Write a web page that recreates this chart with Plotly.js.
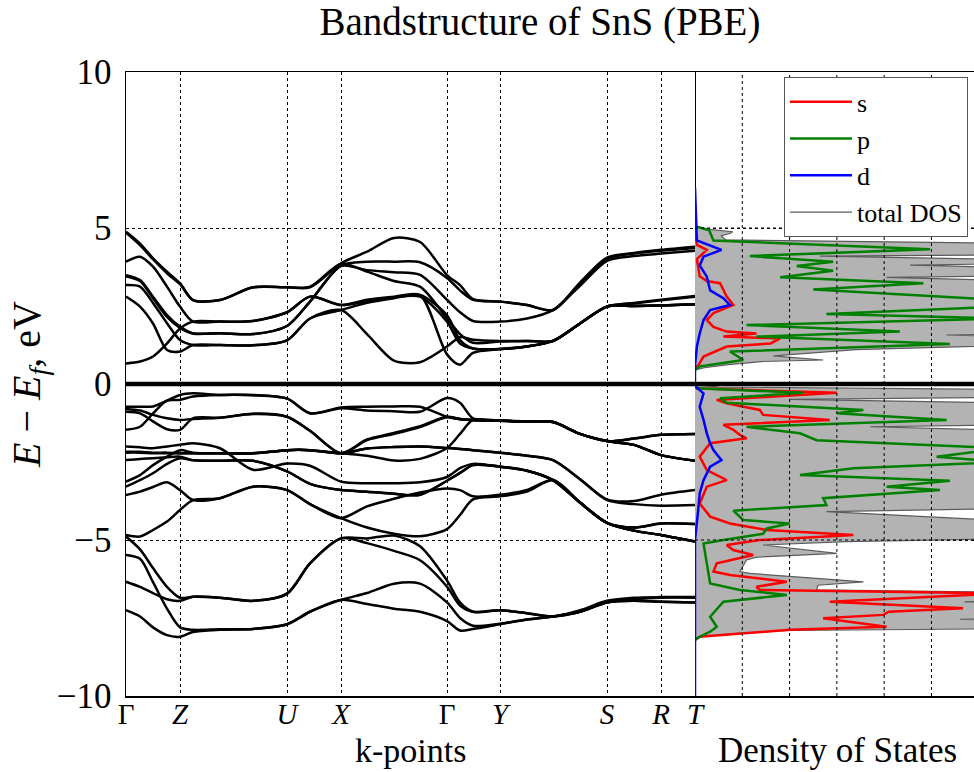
<!DOCTYPE html>
<html><head><meta charset="utf-8">
<script src="https://cdn.plot.ly/plotly-3.0.1.min.js"></script>
<style>html,body{margin:0;padding:0;background:#fff}</style>
</head><body><div id="chart" style="width:974px;height:772px"></div>
<script>
// k-path distances (arbitrary units) of the sampled points
const kPath = [0,14,27,41,54,67,94,127,161,184,215,241,268,294,321,334,347,374,401,427,454,481,508,535,569];
const kTicks = [0,54,161,215,321,374,481,535,569];
const kLabels = ['Γ','<i>Z</i>','<i>U</i>','<i>X</i>','Γ','<i>Y</i>','<i>S</i>','<i>R</i>','<i>T</i>'];
const eTicks = [-10,-5,0,5,10];

// conduction bands (eV)
const cb1 = [4.88,4.5,4.03,3.6,3.23,2.69,2.69,3.1,3.1,3.1,3.87,4.24,4.68,4.55,3.49,3.17,2.72,2.64,2.53,2.37,3.25,4.05,4.2,4.3,4.4];
const cb2 = [3.92,4.08,3.76,3.12,2.48,2.0,2.0,2.02,2.3,2.8,2.53,2.7,2.8,2.85,0.95,0.62,1.0,1.12,1.2,1.38,1.94,2.48,2.5,2.52,2.56];
const cb3 = [3.49,3.33,2.8,2.21,1.84,1.62,1.63,1.6,1.86,2.64,3.8,3.92,3.92,3.9,3.4,3.0,2.7,2.64,2.53,2.37,3.22,4.02,4.18,4.27,4.36];
const cb4 = [3.17,3.12,2.6,1.95,1.41,1.25,1.25,1.24,1.4,2.1,2.37,1.6,0.75,0.7,1.2,1.5,1.42,1.38,1.38,1.38,1.94,2.48,2.58,2.68,2.8];
const cb5 = [2.8,2.48,1.94,1.09,1.04,1.25,1.25,1.24,1.4,2.1,2.37,2.6,2.75,2.85,2.2,1.41,1.14,1.12,1.2,1.38,1.94,2.48,2.5,2.52,2.56];
const cb6 = [0.66,0.72,0.88,1.3,1.78,2.0,2.0,2.02,2.3,2.8,2.53,2.65,2.78,2.8,2.0,1.3,1.14,1.12,1.2,1.38,1.94,2.48,2.5,2.52,2.56];
const cb7 = [3.45,3.3,2.75,2.15,1.8,1.62,1.63,1.6,1.86,2.64,3.78,3.65,3.58,3.5,2.7,2.3,2.02,2.0,2.1,2.37,3.15,3.95,4.1,4.18,4.27];
const cb8 = [4.85,4.45,4.0,3.55,3.2,2.69,2.69,3.1,3.1,3.12,3.85,3.6,3.3,3.12,2.1,1.6,1.32,1.36,1.38,1.38,1.94,2.48,2.6,2.7,2.82];

// valence bands (eV)
const vb1 = [-0.73,-0.73,-0.72,-0.53,-0.35,-0.3,-0.35,-0.35,-0.46,-0.94,-0.75,-0.73,-0.72,-0.73,-1.05,-1.12,-1.15,-1.18,-1.2,-1.22,-1.6,-1.83,-1.75,-1.63,-1.6];
const vb2 = [-0.89,-0.94,-1.2,-1.45,-1.47,-1.1,-1.08,-0.95,-1.05,-1.5,-2.22,-1.78,-1.57,-1.35,-1.05,-1.12,-1.15,-1.18,-1.2,-1.22,-1.6,-1.83,-1.95,-2.28,-2.46];
const vb3 = [-1.47,-1.37,-0.94,-0.53,-0.51,-0.4,-0.35,-0.36,-0.47,-0.94,-0.78,-0.85,-0.87,-0.89,-0.45,-0.6,-1.1,-1.17,-1.2,-1.22,-1.6,-1.83,-1.75,-1.63,-1.6];
const vb4 = [-0.8,-0.85,-0.99,-1.1,-1.15,-1.12,-1.08,-0.96,-1.05,-1.5,-2.22,-1.8,-1.6,-1.38,-1.07,-1.13,-1.16,-1.18,-1.2,-1.22,-1.6,-1.83,-1.95,-2.28,-2.46];
const vb5 = [-2.17,-2.17,-2.2,-2.2,-2.22,-2.22,-2.22,-2.22,-2.12,-2.12,-2.22,-2.07,-2.02,-2.0,-2.05,-2.08,-2.12,-2.2,-2.3,-2.44,-3.05,-3.7,-3.75,-3.55,-3.4];
const vb6 = [-2.2,-2.2,-2.22,-2.22,-2.22,-2.22,-2.22,-2.22,-2.12,-2.12,-2.22,-2.3,-2.45,-2.4,-2.05,-1.6,-1.15,-1.18,-1.2,-1.22,-1.6,-1.83,-1.95,-2.28,-2.46];
const vb7 = [-3.13,-2.92,-2.6,-2.33,-2.12,-2.2,-2.22,-2.22,-2.12,-2.12,-2.22,-2.07,-2.02,-2.0,-2.05,-2.08,-2.12,-2.2,-2.3,-2.44,-3.05,-3.72,-3.85,-3.9,-3.88];
const vb8 = [-2.0,-2.03,-2.06,-2.0,-1.95,-1.9,-2.06,-2.75,-2.55,-2.62,-3.13,-3.18,-3.18,-3.15,-2.98,-2.7,-2.56,-2.65,-2.78,-3.08,-3.8,-4.45,-4.6,-4.47,-4.49];
const vb9 = [-2.44,-2.4,-2.38,-2.35,-2.33,-2.44,-2.46,-2.46,-2.8,-3.2,-3.4,-3.45,-3.52,-3.55,-3.1,-2.85,-2.6,-2.65,-2.78,-3.08,-3.8,-4.45,-4.7,-4.84,-5.05];
const vb10 = [-3.29,-3.08,-2.86,-2.56,-2.38,-2.44,-2.46,-2.46,-2.8,-3.2,-3.4,-3.45,-3.52,-3.55,-3.1,-2.85,-2.6,-2.65,-2.78,-3.08,-3.8,-4.45,-4.7,-4.84,-5.05];
const vb11 = [-3.56,-3.45,-3.3,-3.15,-3.4,-3.72,-3.66,-3.29,-3.4,-3.85,-4.3,-3.92,-3.68,-3.48,-3.35,-3.4,-3.6,-3.55,-3.4,-3.08,-3.8,-4.45,-4.6,-4.47,-4.49];
const vb12 = [-4.84,-4.89,-4.68,-4.41,-4.04,-3.72,-3.66,-3.29,-3.4,-3.85,-4.3,-4.6,-4.8,-4.88,-4.65,-4.2,-3.7,-3.6,-3.45,-3.08,-3.8,-4.45,-4.7,-4.84,-5.05];
const vb13 = [-4.89,-5.3,-5.9,-6.5,-6.85,-6.82,-6.85,-6.95,-6.72,-5.75,-4.95,-4.95,-4.86,-5.2,-6.3,-7.0,-7.3,-7.25,-7.35,-7.45,-7.25,-6.95,-6.85,-6.83,-6.83];
const vb14 = [-5.48,-5.6,-6.35,-7.2,-7.8,-7.88,-7.86,-7.85,-7.7,-7.3,-6.92,-7.05,-7.2,-7.3,-7.6,-7.9,-7.85,-7.7,-7.55,-7.45,-7.3,-7.0,-6.95,-6.98,-7.0];
const vb15 = [-6.34,-6.5,-6.7,-6.9,-6.95,-6.82,-6.85,-6.95,-6.72,-5.75,-4.95,-5.1,-5.35,-5.65,-6.5,-7.1,-7.3,-7.25,-7.35,-7.45,-7.3,-7.0,-6.9,-6.85,-6.85];
const vb16 = [-7.25,-7.45,-7.8,-8.05,-8.1,-7.95,-7.88,-7.85,-7.7,-7.3,-6.92,-6.7,-6.4,-6.4,-7.0,-7.5,-7.75,-7.68,-7.55,-7.45,-7.3,-7.0,-6.95,-6.98,-7.0];

// density of states: energies (eV) and values
const totE = [5.15,5.04,4.95,4.88,4.83,4.75,4.62,4.5,4.14,4.1,3.98,3.86,3.81,3.72,3.47,3.42,3.3,1.62,1.57,1.5,1.25,1.1,0.9,0.77,0.72,0.62,0.52,0.45,0.05,-0.02,-0.1,-0.18,-0.42,-0.49,-0.62,-1.3,-1.37,-1.5,-3.98,-4.09,-4.42,-4.95,-5.05,-5.16,-5.43,-5.55,-5.64,-6.01,-6.07,-6.34,-6.45,-6.6,-6.68,-6.94,-6.98,-7.05,-7.5,-7.54,-7.6,-7.84,-7.9,-8.0,-8.1,-8.2];
const totV = [0,0.05,0.35,0.8,0.75,0.55,0.65,7,7,2.64,7,7,4.55,7,7,4.05,7,7,5.32,7,7,3.4,1.66,2.71,1.4,0.7,0.2,0,0,0.05,0.5,7,7,2.0,7,7,3.7,7,7,2.78,7,7,3.2,1.44,3.0,1.3,1.09,0.95,1.16,3.56,2.6,2.57,7,7,5.7,7,7,5.6,7,7,2.0,0.8,0.1,0];
const sE = [5.0,4.6,4.46,4.3,4.0,3.45,3.3,3.23,2.8,2.53,2.27,2.05,1.83,1.68,1.62,1.52,1.46,1.3,1.2,0.88,0.6,0.5,null,0.0,-0.14,-0.28,-0.51,-0.62,-0.83,-0.99,-1.15,-1.31,-1.47,-1.63,-1.74,-1.9,-2.33,-2.76,-3.08,-3.29,-3.83,-4.25,-4.47,-4.68,-4.84,-5.0,-5.16,-5.32,-5.48,-5.75,-6.01,-6.12,-6.34,-6.5,-6.6,-6.71,-6.98,-7.19,-7.3,-7.4,-7.51,-7.78,-7.88,-8.1,-8.2];
const sV = [0,0.03,0.04,0.25,0.04,0.1,0.25,0.53,0.67,0.81,0.39,0.25,0.39,0.67,1.3,0.6,1.8,1.6,0.67,0.18,0.07,0,null,0,0.04,3.0,0.46,0.67,1.37,1.44,2.85,0.6,0.81,0.95,1.09,0.32,0.1,0.25,0.67,0.25,0.1,0.32,0.74,1.52,3.35,1.37,0.67,0.81,1.23,0.46,0.39,0.74,1.94,1.3,1.37,6.5,2.85,5.67,4.1,3.98,2.71,4.05,2.0,0.1,0];
const pE = [5.1,5.04,4.93,4.6,4.32,4.1,3.92,3.78,3.63,3.42,3.23,3.03,2.8,2.69,2.48,2.24,2.1,1.89,1.68,1.52,1.28,1.04,0.77,0.56,0.45,null,0.0,-0.14,-0.28,-0.46,-0.6,-0.83,-0.94,-1.15,-1.37,-1.58,-1.8,-2.06,-2.33,-2.5,-2.7,-2.92,-3.1,-3.29,-3.4,-3.66,-3.88,-4.06,-4.36,-4.47,-4.63,-4.8,-5.0,-5.11,-5.75,-6.39,-6.6,-6.76,-6.98,-7.46,-7.78,-7.94,-8.1,-8.2];
const pV = [0,0.04,0.3,0.39,4.97,1.16,2.92,2.15,2.92,1.8,4.83,2.5,5.25,6.5,6.5,2.78,6.5,1.09,4.33,1.3,5.39,0.74,1.02,0.1,0,null,0,0.04,2.29,0.53,0.67,3.56,3.0,5.32,1.09,2.22,2.57,6.5,5.11,6.5,3.35,2.22,5.39,4.05,5.18,2.71,2.78,0.81,1.02,2.0,1.52,1.44,0.6,0.18,0.25,0.32,0.95,1.94,0.6,0.32,0.46,0.32,0.1,0];
const dE = [6.3,5.0,4.6,4.3,4.08,3.8,3.44,3.0,2.75,2.53,2.37,2.05,1.62,1.2,0.6,0.0,-0.1,-0.3,-0.73,-1.15,-1.58,-1.9,-2.12,-2.44,-2.65,-3.08,-3.5,-4.0,-5.0,-10];
const dV = [0,0.02,0.04,0.56,0.18,0.1,0.25,0.32,0.6,0.74,0.32,0.18,0.1,0.04,0.0,0.0,0.03,0.18,0.1,0.18,0.25,0.32,0.39,0.56,0.32,0.18,0.1,0.07,0.0,0];
const dosGrid = [1,2,3,4,5];
const dosHGrid = [-5,5];

const bands = [cb1,cb2,cb3,cb4,cb5,cb6,cb7,cb8,vb1,vb2,vb3,vb4,vb5,vb6,vb7,vb8,vb9,vb10,vb11,vb12,vb13,vb14,vb15,vb16];

const FONT = '"Liberation Serif", serif';
const traces = [];
bands.forEach(b => traces.push({
  x: kPath, y: b, xaxis: 'x', yaxis: 'y', type: 'scatter', mode: 'lines',
  line: {color: 'black', width: 2.5, shape: 'spline', smoothing: 0.8},
  showlegend: false, hoverinfo: 'skip'
}));
traces.push({x: totV, y: totE, xaxis: 'x2', yaxis: 'y', type: 'scatter', mode: 'lines',
  fill: 'tozerox', fillcolor: '#b3b3b3', line: {width: 0, color: '#b3b3b3'}, showlegend: false, hoverinfo: 'skip'});
traces.push({x: totV, y: totE, xaxis: 'x2', yaxis: 'y', type: 'scatter', mode: 'lines',
  line: {color: '#5c5c5c', width: 1.2}, name: 'total DOS', legendrank: 4});
traces.push({x: sV, y: sE, xaxis: 'x2', yaxis: 'y', type: 'scatter', mode: 'lines',
  line: {color: '#ff0000', width: 2.5}, name: 's', legendrank: 1});
traces.push({x: pV, y: pE, xaxis: 'x2', yaxis: 'y', type: 'scatter', mode: 'lines',
  line: {color: '#008000', width: 2.5}, name: 'p', legendrank: 2});
traces.push({x: dV, y: dE, xaxis: 'x2', yaxis: 'y', type: 'scatter', mode: 'lines',
  line: {color: '#0000ff', width: 2.5}, name: 'd', legendrank: 3});

const shapes = [];
dosGrid.forEach(v => shapes.push({type: 'line', xref: 'x2', yref: 'y domain', x0: v, x1: v, y0: 0, y1: 1,
  line: {color: 'black', width: 1, dash: 'dot'}, layer: 'above'}));
dosHGrid.forEach(e => shapes.push({type: 'line', xref: 'x2 domain', yref: 'y', x0: 0, x1: 1, y0: e, y1: e,
  line: {color: 'black', width: 1, dash: 'dot'}, layer: 'above'}));
shapes.push({type: 'line', xref: 'paper', yref: 'y', x0: 0, x1: 1, y0: 0, y1: 0,
  line: {color: 'black', width: 4.5}, layer: 'above'});

const annotations = [
  {text: 'k-points', xref: 'paper', yref: 'paper', x: 0.3355, y: -0.0881, xanchor: 'center', yanchor: 'middle',
   showarrow: false, font: {family: FONT, size: 34}},
  {text: 'Density of States', xref: 'paper', yref: 'paper', x: 0.8392, y: -0.0881, xanchor: 'center', yanchor: 'middle',
   showarrow: false, font: {family: FONT, size: 35}}
];

const gridStyle = {showgrid: true, gridcolor: 'black', griddash: 'dot', gridwidth: 1};
const layout = {
  width: 974, height: 772,
  margin: {l: 126, r: 0, t: 72, b: 76},
  paper_bgcolor: 'white', plot_bgcolor: 'white',
  font: {family: FONT, color: 'black'},
  title: {text: 'Bandstructure of SnS (PBE)', font: {family: FONT, size: 39},
    x: 0.5544, xanchor: 'center', xref: 'container', y: 0.973, yanchor: 'middle', yref: 'container'},
  showlegend: true,
  legend: {x: 0.9929, xanchor: 'right', y: 0.9915, yanchor: 'top', bgcolor: 'white',
    bordercolor: '#555', borderwidth: 1, font: {family: FONT, size: 26}, traceorder: 'normal',
    itemwidth: 62},
  xaxis: Object.assign({domain: [0, 0.67099], range: [0, 569], tickvals: kTicks, ticktext: kLabels,
    zeroline: false, showline: true, linecolor: 'black', linewidth: 1.5, mirror: true, ticks: '', ticklen: 0,
    tickfont: {family: FONT, size: 29}, anchor: 'y', ticklabelstandoff: -8}, gridStyle),
  xaxis2: {domain: [0.67099, 1], range: [0, 5.9], showticklabels: false, showgrid: false,
    zeroline: false, showline: true, linecolor: 'black', linewidth: 1.5, mirror: true, ticks: '', anchor: 'y'},
  yaxis: Object.assign({range: [-10, 10], tickvals: eTicks, zeroline: false, showline: true,
    linecolor: 'black', linewidth: 1.5, mirror: true, ticks: '', ticklen: 0, anchor: 'x',
    tickfont: {family: FONT, size: 35}, ticklabelstandoff: 6,
    title: {text: '<i>E</i> − <i>E<sub>f</sub></i>, eV', font: {family: FONT, size: 40}, standoff: 4}}, gridStyle),
  shapes: shapes,
  annotations: annotations
};
Plotly.newPlot('chart', traces, layout, {displayModeBar: false, staticPlot: true});
</script></body></html>
